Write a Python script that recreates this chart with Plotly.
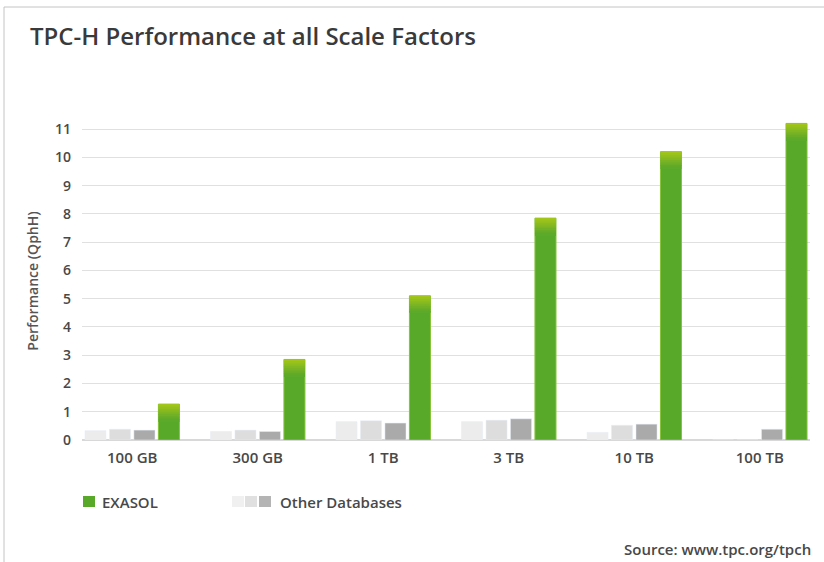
import plotly.graph_objects as go

categories = ["100 GB", "300 GB", "1 TB", "3 TB", "10 TB", "100 TB"]
other_a = [0.33, 0.30, 0.65, 0.65, 0.27, 0.0]
other_b = [0.38, 0.35, 0.68, 0.70, 0.52, 0.0]
other_c = [0.35, 0.30, 0.60, 0.75, 0.56, 0.38]
exasol = [1.27, 2.85, 5.10, 7.85, 10.20, 11.20]
y_ticks = list(range(0, 12))

W, H = 824, 562
L, R, T, B = 82, 14, 122, 122
PW, PH = W - L - R, H - T - B


def px(x):
    return (x - L) / PW


def py(y):
    return (H - B - y) / PH


FONT = "Open Sans"
TXT = "#484848"
fig = go.Figure()
gray_cols = ["#ececec", "#dddddd", "#aaaaaa"]
for name, vals, col in zip(["A", "B", "C"], [other_a, other_b, other_c], gray_cols):
    fig.add_trace(go.Bar(x=categories, y=vals, name=name, marker_color=col,
                         offsetgroup=name, showlegend=False, hoverinfo="skip"))

fig.add_trace(go.Bar(x=categories, y=exasol, name="EXASOL", marker_color="#58a92a",
                     marker_line=dict(color="#86c43a", width=1),
                     offsetgroup="E", showlegend=False))
# soft yellow-green top of the EXASOL bars
caps = ["#a2c51a", "#9ac21c", "#92bf1e", "#8abb20", "#82b822", "#7ab424",
        "#72b125", "#6aad27", "#62ab28", "#5caa29"]
band = 0.06
for k, c in enumerate(caps):
    fig.add_trace(go.Bar(x=categories, y=[band] * len(exasol),
                         base=[v - (k + 1) * band for v in exasol],
                         marker_color=c, marker_line_width=0,
                         offsetgroup="E", showlegend=False, hoverinfo="skip"))

fig.update_layout(
    width=W, height=H,
    margin=dict(l=L, r=R, t=T, b=B),
    paper_bgcolor="white", plot_bgcolor="white",
    barmode="group", bargap=0.22, bargroupgap=0.14,
    font=dict(family=FONT, color=TXT),
    title=dict(text="TPC-H Performance at all Scale Factors",
               x=30 / W, xanchor="left", y=1 - 37 / H, yanchor="middle",
               font=dict(size=24, color="#3a3a3a", family=FONT, weight=600)),
    xaxis=dict(range=[-0.4, 5.4], showgrid=False, zeroline=False, showline=False,
               ticks="", tickfont=dict(size=15, color=TXT, weight=600),
               ticklabelstandoff=7),
    yaxis=dict(range=[0, 11.25], tickvals=y_ticks, showgrid=True,
               gridcolor="#e0e0e0", gridwidth=1, zeroline=True, zerolinecolor="#d8d8d8",
               showline=False, ticks="", ticklabelstandoff=10,
               tickfont=dict(size=14, color=TXT, weight=600),
               title=dict(text="Performance (QphH)", standoff=13,
                          font=dict(size=14, color="#555", weight=600))),
)

shapes = [
    dict(type="line", xref="paper", yref="paper", x0=px(4), x1=px(W), y0=py(7), y1=py(7),
         line=dict(color="#c4c4c4", width=1)),
    dict(type="line", xref="paper", yref="paper", x0=px(4), x1=px(4), y0=py(7), y1=py(H),
         line=dict(color="#c4c4c4", width=1)),
    dict(type="rect", xref="paper", yref="paper", x0=px(83), x1=px(95), y0=py(496), y1=py(507),
         fillcolor="#58a92a", line_width=0),
]
for x0, c in zip([232, 245, 259], ["#f0f0f0", "#e0e0e0", "#b4b4b4"]):
    shapes.append(dict(type="rect", xref="paper", yref="paper", x0=px(x0), x1=px(x0 + 12),
                       y0=py(496), y1=py(507), fillcolor=c, line_width=0))
fig.update_layout(shapes=shapes)

ann = [
    dict(text="EXASOL", x=px(100), y=py(501.5), xanchor="left", yanchor="middle",
         font=dict(size=15, color=TXT, weight=600)),
    dict(text="Other Databases", x=px(278), y=py(501.5), xanchor="left", yanchor="middle",
         font=dict(size=15, color=TXT, weight=600)),
    dict(text="Source: www.tpc.org/tpch", x=px(813), y=py(549), xanchor="right", yanchor="middle",
         font=dict(size=15, color=TXT, weight=600)),
]
for a in ann:
    a.update(xref="paper", yref="paper", showarrow=False)
fig.update_layout(annotations=ann)

fig.write_html("out.html")
